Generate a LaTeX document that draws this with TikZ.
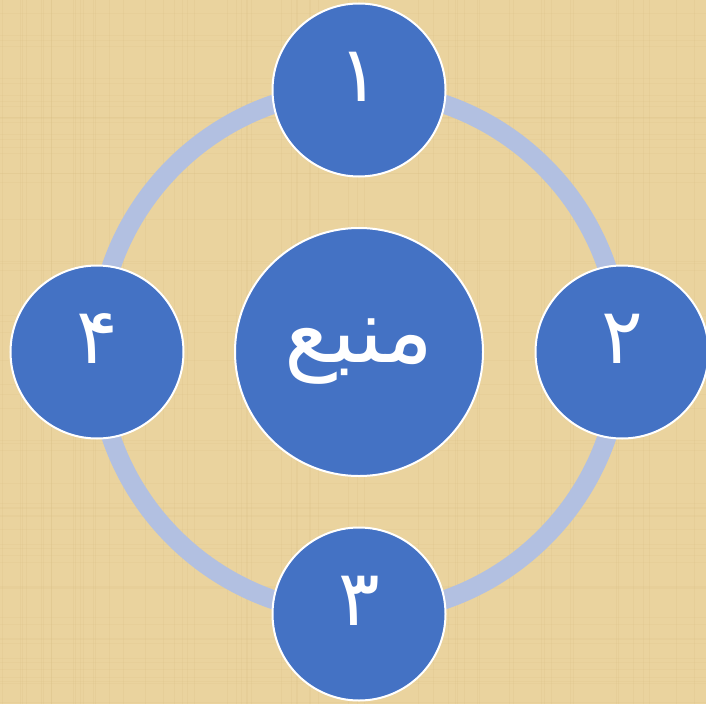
\documentclass[tikz,border=0pt]{standalone}
\usepackage{fontspec}
\newfontfamily\arabicfont[Script=Arabic]{DejaVu Sans}
\TeXXeTstate=1
\usepackage{xcolor}
\definecolor{papyrus}{RGB}{234,211,158}
\definecolor{fibre}{RGB}{214,188,128}
\definecolor{cycleblue}{RGB}{68,114,196}
\definecolor{ringblue}{RGB}{178,192,225}

\begin{document}
\begin{tikzpicture}[x=1bp,y=-1bp,
    bubble/.style={circle, fill=cycleblue, draw=white, line width=2bp,
        minimum size=173bp, inner sep=0pt, text=white, text depth=26bp,
        font=\arabicfont\fontsize{78}{78}\selectfont},
    hub/.style={bubble, minimum size=248bp, text depth=,
        font=\arabicfont\fontsize{90}{90}\selectfont},
    ring/.style={ringblue, line width=19bp}]
    % Background
    \fill[papyrus] (0,0) rectangle (706,704);
    \useasboundingbox (0,0) rectangle (706,704);
    \pgfmathsetseed{7}
    \foreach \i in {1,...,60}{
        \pgfmathsetmacro{\px}{rnd*706}
        \pgfmathsetmacro{\py}{rnd*704}
        \draw[fibre, opacity=0.2, line width=1bp] (\px,0) -- (\px,704);
        \draw[fibre, opacity=0.15, line width=1bp] (0,\py) -- (706,\py);
    }

    % Ring
    \coordinate (mid) at (359,352);
    \draw[ring] (mid) circle (262);

    % Centre
    \node[hub] (src) at (mid) {\beginR منبع\endR};

    % Steps
    \node[bubble] (n1) at (359,90) {١};
    \node[bubble] (n2) at (622,352) {٢};
    \node[bubble] (n3) at (359,614) {٣};
    \node[bubble] (n4) at (97,352) {۴};
\end{tikzpicture}
\end{document}
